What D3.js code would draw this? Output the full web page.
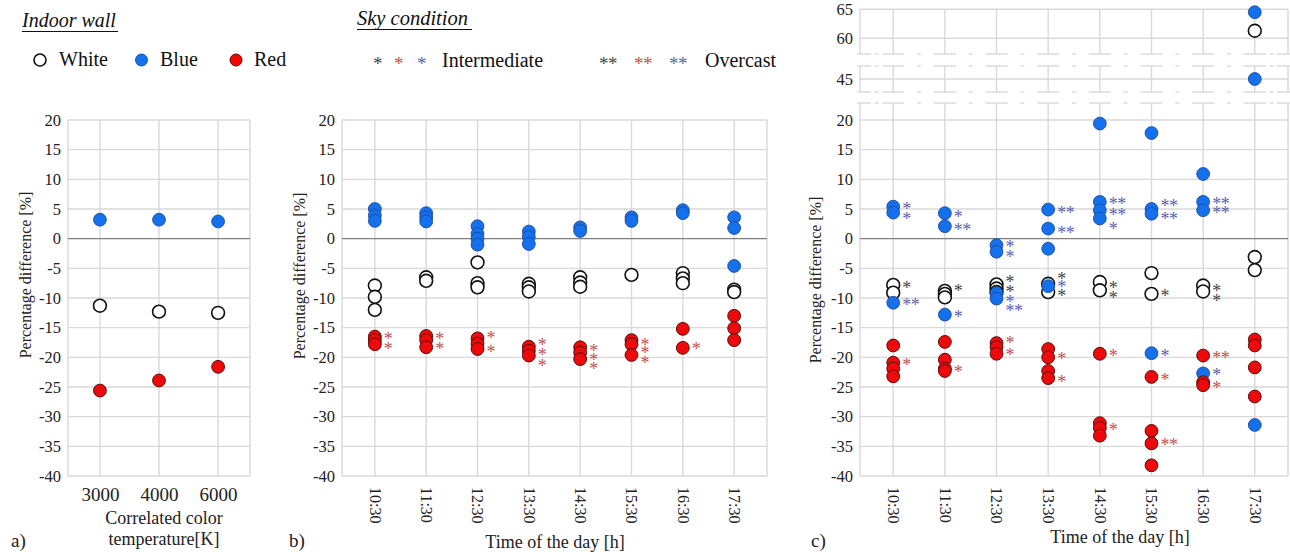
<!DOCTYPE html>
<html>
<head>
<meta charset="utf-8">
<script src="https://cdn.jsdelivr.net/npm/d3@7"></script>
<style>
  html, body { margin: 0; padding: 0; background: #fff; }
  svg text { font-family: "Liberation Serif", "Times New Roman", Times, "DejaVu Serif", serif !important; }
</style>
</head>
<body>
<svg id="chart" width="1290" height="552"></svg>
<script>
// ---------- data ----------
// a) correlated colour temperature
const cctLabels = ["3000", "4000", "6000"];
const cctWhite = [-11.3, -12.3, -12.5];
const cctBlue = [3.2, 3.2, 2.9];
const cctRed = [-25.6, -23.9, -21.6];

// time of day categories (panels b and c)
const hours = ["10:30", "11:30", "12:30", "13:30", "14:30", "15:30", "16:30", "17:30"];

// b) values per hour
const bWhite = [
  [-7.9, -9.8, -12.0], [-6.5, -7.1], [-4.0, -7.5, -8.2], [-7.6, -8.2, -8.9],
  [-6.5, -7.4, -8.1], [-6.1], [-5.8, -6.7, -7.5], [-8.6, -9.0]
];
const bBlue = [
  [5.0, 3.9, 3.0], [4.3, 3.6, 2.9], [2.1, 0.8, 0.0, -1.0], [1.2, 0.3, -0.9],
  [1.9, 1.3], [3.6, 3.0], [4.8, 4.3], [3.6, 1.8, -4.6]
];
const bRed = [
  [-16.5, -17.1, -17.8], [-16.4, -17.1, -18.3], [-16.8, -17.7, -18.6], [-18.2, -18.9, -19.7],
  [-18.3, -19.2, -20.3], [-17.1, -17.8, -19.6], [-15.2, -18.4], [-13.0, -15.1, -17.1]
];
// b) sky condition marks: [hour, value, mark, wall]
const bMarks = [
  ["10:30", -16.5, "*", "red"], ["10:30", -18.2, "*", "red"],
  ["11:30", -16.5, "*", "red"], ["11:30", -18.3, "*", "red"],
  ["12:30", -16.4, "*", "red"], ["12:30", -18.8, "*", "red"],
  ["13:30", -17.5, "*", "red"], ["13:30", -19.3, "*", "red"], ["13:30", -21.1, "*", "red"],
  ["14:30", -18.6, "*", "red"], ["14:30", -20.1, "*", "red"], ["14:30", -21.7, "*", "red"],
  ["15:30", -17.5, "*", "red"], ["15:30", -18.9, "*", "red"], ["15:30", -20.6, "*", "red"],
  ["16:30", -18.2, "*", "red"]
];

// c) values per hour (values above 40 sit on the broken upper axis)
const cWhite = [
  [-7.8, -9.1], [-8.8, -9.3, -9.9], [-7.7, -8.4, -9.0], [-7.6, -9.0],
  [-7.3, -8.7], [-5.8, -9.3], [-7.9, -8.9], [61.3, -3.1, -5.3]
];
const cBlue = [
  [5.4, 4.4, -10.8], [4.3, 2.1, -12.8], [-1.1, -2.2, -9.2, -10.1], [4.9, 1.7, -1.7, -8.0],
  [19.4, 6.2, 4.8, 3.4], [17.8, 5.0, 4.2, -19.3], [10.9, 6.2, 4.8, -22.7], [64.5, 45.0, -31.4]
];
const cRed = [
  [-18.0, -20.9, -21.9, -23.2], [-17.4, -20.4, -21.9, -22.3], [-17.6, -18.3, -19.4], [-18.6, -20.0, -22.3, -23.5],
  [-19.4, -31.1, -31.9, -33.2], [-23.3, -32.4, -34.5, -38.2], [-19.7, -24.2, -24.7], [-17.0, -18.0, -21.7, -26.6]
];
const cMarks = [
  ["10:30", 5.4, "*", "blue"], ["10:30", 3.6, "*", "blue"], ["10:30", -7.9, "*", "white"],
  ["10:30", -10.9, "**", "blue"], ["10:30", -21.0, "*", "red"],
  ["11:30", 4.0, "*", "blue"], ["11:30", 1.8, "**", "blue"], ["11:30", -8.5, "*", "white"],
  ["11:30", -12.8, "*", "blue"], ["11:30", -22.1, "*", "red"],
  ["12:30", -1.0, "*", "blue"], ["12:30", -2.7, "*", "blue"], ["12:30", -7.0, "*", "white"],
  ["12:30", -8.7, "*", "white"], ["12:30", -10.3, "*", "blue"], ["12:30", -11.9, "**", "blue"],
  ["12:30", -17.3, "*", "red"], ["12:30", -19.3, "*", "red"],
  ["13:30", 4.7, "**", "blue"], ["13:30", 1.3, "**", "blue"], ["13:30", -6.5, "*", "white"],
  ["13:30", -7.8, "*", "blue"], ["13:30", -9.3, "*", "white"], ["13:30", -20.0, "*", "red"],
  ["13:30", -23.8, "*", "red"],
  ["14:30", 6.2, "**", "blue"], ["14:30", 4.4, "**", "blue"], ["14:30", 2.0, "*", "blue"],
  ["14:30", -8.0, "*", "white"], ["14:30", -9.6, "*", "white"], ["14:30", -19.4, "*", "red"],
  ["14:30", -31.9, "*", "red"],
  ["15:30", 5.8, "**", "blue"], ["15:30", 3.7, "**", "blue"], ["15:30", -9.3, "*", "white"],
  ["15:30", -19.4, "*", "blue"], ["15:30", -23.4, "*", "red"], ["15:30", -34.5, "**", "red"],
  ["16:30", 6.1, "**", "blue"], ["16:30", 4.6, "**", "blue"], ["16:30", -8.4, "*", "white"],
  ["16:30", -10.1, "*", "white"], ["16:30", -19.8, "**", "red"], ["16:30", -22.7, "*", "blue"],
  ["16:30", -24.8, "*", "red"]
];

// tick values
const mainTicks = d3.range(-40, 21, 5);
const midTicks = [45];
const topTicks = [60, 65];

// ---------- styles ----------
const wallStyle = {
  white: { fill: "#ffffff", stroke: "#111111", sw: 1.6 },
  blue:  { fill: "#1570ee", stroke: "#1d4a9a", sw: 0.9 },
  red:   { fill: "#ee0a0a", stroke: "#5a0a0a", sw: 1.0 }
};
const markColor = { white: "#444444", blue: "#5a5fb0", red: "#c4504c" };
const gridColor = "#d9d9d9";
const R = 6.4;

const svg = d3.select("#chart");

// main y scale shared by all three panels
const yMain = d3.scaleLinear().domain([-40, 20]).range([476, 120]);
// upper broken-axis segments of panel c
const yMid = d3.scaleLinear().domain([40, 50]).range([108.6, 49.4]);
const yTop = d3.scaleLinear().domain([60, 65]).range([38.3, 9.3]);
const yBroken = v => v >= 55 ? yTop(v) : (v >= 40 ? yMid(v) : yMain(v));

function yAxis(g, scale, ticks, xLeft) {
  const ax = d3.axisLeft(scale).tickValues(ticks).tickSize(0).tickPadding(7)
    .tickFormat(d => String(d));
  const a = g.append("g").attr("transform", `translate(${xLeft},0)`).call(ax);
  a.select(".domain").remove();
  a.selectAll("text").attr("font-size", 16.5).attr("fill", "#222");
}

function hGrid(g, scale, ticks, x0, x1) {
  g.selectAll(null).data(ticks).enter().append("line")
    .attr("x1", x0).attr("x2", x1)
    .attr("y1", d => scale(d)).attr("y2", d => scale(d))
    .attr("stroke", d => d === 0 ? "#7f7f7f" : gridColor)
    .attr("stroke-width", 1.4);
}

function vGrid(g, xs, y0, y1) {
  g.selectAll(null).data(xs).enter().append("line")
    .attr("x1", d => d).attr("x2", d => d)
    .attr("y1", y0).attr("y2", y1)
    .attr("stroke", gridColor).attr("stroke-width", 1.4);
}

function dots(g, x, cats, values, wall, yFn) {
  const pts = [];
  values.forEach((arr, i) => arr.forEach(v => pts.push({ c: cats[i], v })));
  const s = wallStyle[wall];
  g.selectAll(null).data(pts).enter().append("circle")
    .attr("cx", d => x(d.c)).attr("cy", d => yFn(d.v)).attr("r", R)
    .attr("fill", s.fill).attr("stroke", s.stroke).attr("stroke-width", s.sw);
}

function marks(g, x, list, yFn) {
  g.selectAll(null).data(list).enter().append("text")
    .attr("x", d => x(d[0]) + 9)
    .attr("y", d => yFn(d[1]) + 8)
    .attr("font-size", 18)
    .attr("letter-spacing", -0.5)
    .attr("fill", d => markColor[d[3]])
    .text(d => d[2]);
}

function xAxisRotated(g, x, yPos) {
  const ax = d3.axisBottom(x).tickSize(0).tickPadding(0);
  const a = g.append("g").attr("transform", `translate(0,${yPos})`).call(ax);
  a.select(".domain").remove();
  a.selectAll("text")
    .attr("font-size", 16).attr("fill", "#222")
    .attr("text-anchor", "start")
    .attr("dy", "0.35em")
    .attr("y", 0)
    .attr("transform", "rotate(90)");
}

function textAt(x, y, str, opts = {}) {
  const t = svg.append("text").attr("x", x).attr("y", y)
    .attr("font-size", opts.size || 16).attr("fill", opts.fill || "#222")
    .attr("text-anchor", opts.anchor || "start").text(str);
  if (opts.italic) t.attr("font-style", "italic");
  if (opts.rotate) t.attr("transform", `rotate(-90,${x},${y})`);
  return t;
}

// ---------- panel a ----------
{
  const g = svg.append("g");
  const x = d3.scalePoint().domain(cctLabels).range([68, 250]).padding(0.54);
  hGrid(g, yMain, mainTicks.filter(d => d !== 0), 68, 250);
  vGrid(g, [68, ...cctLabels.map(x), 250], 120, 476);
  hGrid(g, yMain, [0], 68, 250);
  yAxis(g, yMain, mainTicks, 68);
  const ax = g.append("g").attr("transform", "translate(0,482)")
    .call(d3.axisBottom(x).tickSize(0).tickPadding(6));
  ax.select(".domain").remove();
  ax.selectAll("text").attr("font-size", 19).attr("fill", "#222");
  dots(g, x, cctLabels, cctWhite.map(v => [v]), "white", yMain);
  dots(g, x, cctLabels, cctBlue.map(v => [v]), "blue", yMain);
  dots(g, x, cctLabels, cctRed.map(v => [v]), "red", yMain);
  textAt(164, 524, "Correlated color", { anchor: "middle", size: 18 });
  textAt(164, 545, "temperature[K]", { anchor: "middle", size: 18 });
  textAt(31, 275, "Percentage difference [%]", { anchor: "middle", size: 16, rotate: true });
}

// ---------- panel b ----------
{
  const g = svg.append("g");
  const x = d3.scalePoint().domain(hours).range([342, 767]).padding(0.64);
  hGrid(g, yMain, mainTicks.filter(d => d !== 0), 342, 767);
  vGrid(g, [342, ...hours.map(x), 767], 120, 476);
  hGrid(g, yMain, [0], 342, 767);
  yAxis(g, yMain, mainTicks, 342);
  xAxisRotated(g, x, 487);
  dots(g, x, hours, bWhite, "white", yMain);
  dots(g, x, hours, bBlue, "blue", yMain);
  dots(g, x, hours, bRed, "red", yMain);
  marks(g, x, bMarks, yMain);
  textAt(555, 548, "Time of the day [h]", { anchor: "middle", size: 18 });
  textAt(305, 276, "Percentage difference [%]", { anchor: "middle", size: 16, rotate: true });
}

// ---------- panel c (broken y axis) ----------
{
  const g = svg.append("g");
  const x0 = 860, x1 = 1288;
  const x = d3.scalePoint().domain(hours).range([x0, x1]).padding(0.643);
  const xs = [x0, ...hours.map(x), x1];
  // segment extents in pixels
  const segTop = [yTop(65), 54], segMid = [66, 92], segMain = [103, yMain(-40)];
  hGrid(g, yMain, mainTicks.filter(d => d !== 0), x0, x1);
  hGrid(g, yMid, midTicks, x0, x1);
  hGrid(g, yTop, topTicks, x0, x1);
  vGrid(g, xs, segTop[0], segTop[1]);
  vGrid(g, xs, segMid[0], segMid[1]);
  vGrid(g, xs, segMain[0], segMain[1]);
  hGrid(g, yMain, [0], x0, x1);
  // break caps along each cut edge
  const cuts = [segTop[1], segMid[0], segMid[1], segMain[0]];
  const mids = d3.pairs(xs).map(p => (p[0] + p[1]) / 2);
  cuts.forEach(cy => {
    g.selectAll(null).data(xs).enter().append("line")
      .attr("x1", d => Math.max(x0 - 3, d - 11)).attr("x2", d => Math.min(x1 + 2, d + 11))
      .attr("y1", cy).attr("y2", cy)
      .attr("stroke", gridColor).attr("stroke-width", 1.4);
    g.selectAll(null).data(mids).enter().append("line")
      .attr("x1", d => d - 2).attr("x2", d => d + 2)
      .attr("y1", cy).attr("y2", cy)
      .attr("stroke", gridColor).attr("stroke-width", 1.4);
  });
  yAxis(g, yMain, mainTicks, x0);
  yAxis(g, yMid, midTicks, x0);
  yAxis(g, yTop, topTicks, x0);
  xAxisRotated(g, x, 487);
  dots(g, x, hours, cWhite, "white", yBroken);
  dots(g, x, hours, cBlue, "blue", yBroken);
  dots(g, x, hours, cRed, "red", yBroken);
  marks(g, x, cMarks, yBroken);
  textAt(1120, 543, "Time of the day [h]", { anchor: "middle", size: 18 });
  textAt(821, 280, "Percentage difference [%]", { anchor: "middle", size: 16, rotate: true });
}

// ---------- panel letters ----------
textAt(11, 547, "a)", { size: 19 });
textAt(289, 547, "b)", { size: 19 });
textAt(811, 547, "c)", { size: 19 });

// ---------- legends ----------
{
  textAt(22, 27, "Indoor wall", { size: 20, italic: true, fill: "#111" });
  svg.append("line").attr("x1", 22).attr("x2", 118).attr("y1", 31.5).attr("y2", 31.5)
    .attr("stroke", "#111").attr("stroke-width", 1.1);
  const legendWalls = [
    { wall: "white", label: "White", cx: 40, tx: 59 },
    { wall: "blue", label: "Blue", cx: 141.5, tx: 160 },
    { wall: "red", label: "Red", cx: 236, tx: 254 }
  ];
  legendWalls.forEach(d => {
    const s = wallStyle[d.wall];
    svg.append("circle").attr("cx", d.cx).attr("cy", 60).attr("r", 6)
      .attr("fill", s.fill).attr("stroke", s.stroke).attr("stroke-width", s.sw);
    textAt(d.tx, 66, d.label, { size: 20, fill: "#111" });
  });

  textAt(357, 25, "Sky condition", { size: 20.5, italic: true, fill: "#111" });
  svg.append("line").attr("x1", 357).attr("x2", 472).attr("y1", 29.5).attr("y2", 29.5)
    .attr("stroke", "#111").attr("stroke-width", 1.1);
  const legendSky = [
    { mark: "*", wall: "white", x: 373 }, { mark: "*", wall: "red", x: 394 }, { mark: "*", wall: "blue", x: 417 },
    { mark: "**", wall: "white", x: 599 }, { mark: "**", wall: "red", x: 634 }, { mark: "**", wall: "blue", x: 669 }
  ];
  legendSky.forEach(d => {
    svg.append("text").attr("x", d.x).attr("y", 70).attr("font-size", 19)
      .attr("letter-spacing", -0.5).attr("fill", markColor[d.wall]).text(d.mark);
  });
  textAt(442, 67, "Intermediate", { size: 20, fill: "#111" });
  textAt(705, 67, "Overcast", { size: 20, fill: "#111" });
}
</script>
</body>
</html>
